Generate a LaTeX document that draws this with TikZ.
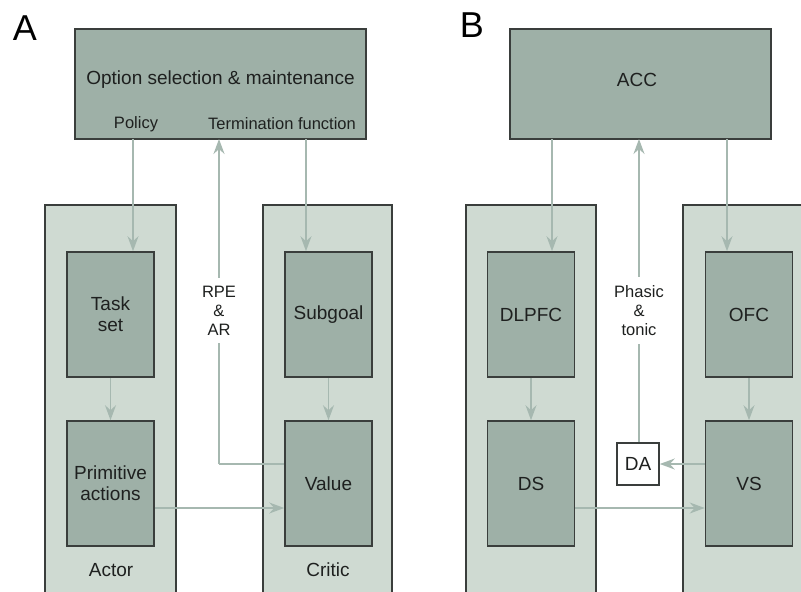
\documentclass[tikz,border=0pt]{standalone}
\usepackage{fontspec}
\setmainfont{Liberation Sans}
\usetikzlibrary{arrows.meta,positioning}
\definecolor{darkfill}{RGB}{158,176,167}
\definecolor{lightfill}{RGB}{207,218,210}
\definecolor{arrowc}{RGB}{166,184,176}
\definecolor{edgec}{RGB}{58,62,60}
\definecolor{txtc}{RGB}{30,32,31}
\tikzset{
  outerbox/.style={draw=edgec, line width=1.6pt, fill=lightfill, minimum width=#1, minimum height=420pt, inner sep=0pt},
  innerbox/.style={draw=edgec, line width=1.6pt, fill=darkfill, minimum width=87pt, minimum height=125pt, inner sep=0pt, align=center, text=txtc, font=\fontsize{19}{21}\selectfont},
  topbox/.style={draw=edgec, line width=1.6pt, fill=darkfill, minimum width=#1, minimum height=110pt, inner sep=0pt},
  bigtxt/.style={text=txtc, font=\fontsize{19}{21}\selectfont, inner sep=0pt},
  smalltxt/.style={text=txtc, font=\fontsize{16.5}{19}\selectfont, inner sep=0pt, align=center},
  gaptxt/.style={text=txtc, font=\fontsize{16.5}{19}\selectfont, fill=white, inner xsep=2pt, inner ysep=8pt, align=center},
  panel/.style={text=black, font=\fontsize{36}{36}\selectfont, inner sep=0pt},
  arr/.style={draw=arrowc, line width=1.6pt, -{Stealth[length=15pt,width=11pt,inset=5pt]}},
  conn/.style={draw=arrowc, line width=1.6pt},
}
\begin{document}
\begin{tikzpicture}[x=1pt,y=-1pt]
\useasboundingbox (0,0) rectangle (801,592);
\begin{scope}
\clip (0,0) rectangle (801,592);
\fill[white] (0,0) rectangle (801,592);
% panel labels
\node[panel] (labA) at (25,28) {A};
\node[panel] (labB) at (472,25) {B};
% outer columns
\node[outerbox=131pt, anchor=north] (actor) at (110.5,204) {};
\node[outerbox=129pt, anchor=north] (critic) at (327.5,204) {};
\node[outerbox=130pt, anchor=north] (left) at (531,204) {};
\node[outerbox=129pt, anchor=north] (right) at (747.5,204) {};
% top boxes
\node[topbox=291pt] (optA) at (220.5,84) {};
\node[bigtxt] (optT) at (220.5,80) {Option selection \& maintenance};
\node[smalltxt] (pol) at (136,124) {Policy};
\node[smalltxt] (term) at (282,124) {Termination function};
\node[topbox=261pt] (acc) at (640.5,84) {};
\node[bigtxt] (accT) at (637,80) {ACC};
% inner boxes A
\node[innerbox] (task) at (110.5,314.5) {Task\\set};
\node[innerbox] (prim) at (110.5,483.5) {Primitive\\actions};
\node[innerbox] (sub) at (328.5,314.5) {Subgoal};
\node[innerbox] (val) at (328.5,483.5) {Value};
\node[bigtxt] (actT) at (111,570) {Actor};
\node[bigtxt] (criT) at (328,570) {Critic};
% inner boxes B
\node[innerbox] (dlpfc) at (531,314.5) {DLPFC};
\node[innerbox] (ds) at (531,483.5) {DS};
\node[innerbox] (ofc) at (749,314.5) {OFC};
\node[innerbox] (vs) at (749,483.5) {VS};
\node[draw=edgec, line width=1.6pt, fill=white, minimum width=42pt, minimum height=42pt, inner sep=0pt, text=txtc, font=\fontsize{19}{21}\selectfont] (da) at (638,464) {DA};
% coordinates
\coordinate (polS) at (133,139);
\coordinate (termS) at (306,139);
\coordinate (rpeT) at (219,139);
\coordinate (rpeC) at (219,464);
\coordinate (accL) at (552,139);
\coordinate (accR) at (727,139);
\coordinate (accM) at (639,139);
% arrows A
\draw[arr] (polS) -- (polS |- task.north);
\draw[arr] (termS) -- (termS |- sub.north);
\draw[arr] (task.south) -- (prim.north);
\draw[arr] (sub.south) -- (val.north);
\draw[arr] (prim.east |- 0,508) -- (val.west |- 0,508);
\draw[conn] (val.west |- rpeC) -- (rpeC);
\draw[arr] (rpeC) -- (rpeT);
\node[gaptxt] (rpe) at (219,310.5) {RPE\\\&\\AR};
% arrows B
\draw[arr] (accL) -- (accL |- dlpfc.north);
\draw[arr] (accR) -- (accR |- ofc.north);
\draw[arr] (dlpfc.south) -- (ds.north);
\draw[arr] (ofc.south) -- (vs.north);
\draw[arr] (ds.east |- 0,508) -- (vs.west |- 0,508);
\draw[arr] (vs.west |- da.east) -- (da.east);
\draw[arr] (da.north -| accM) -- (accM);
\node[gaptxt] (pht) at (639,310.5) {Phasic\\\&\\tonic};
\end{scope}
\end{tikzpicture}
\end{document}
